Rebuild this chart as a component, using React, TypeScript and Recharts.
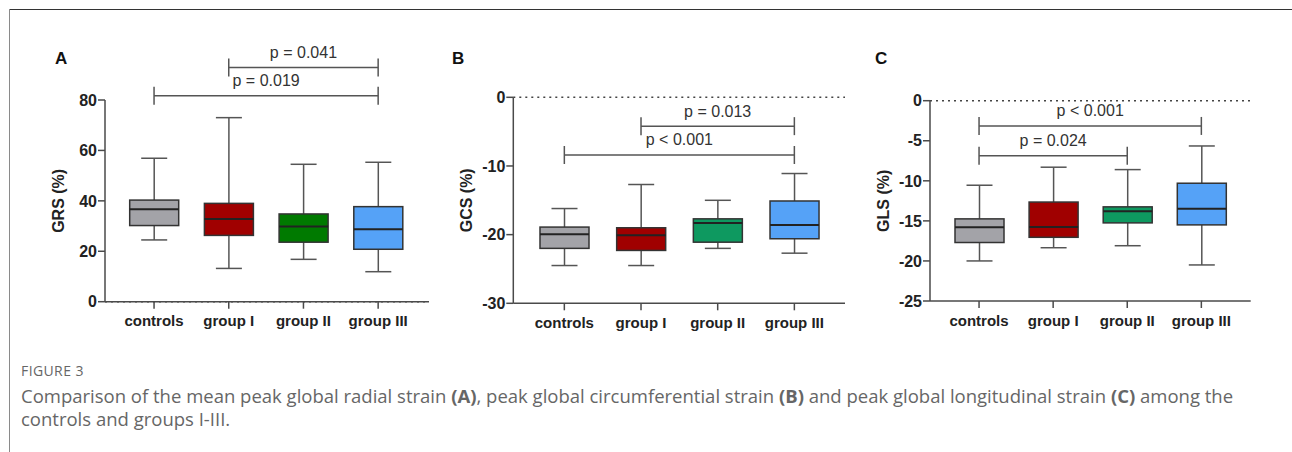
import React from 'react';
import { ComposedChart, Bar, XAxis, YAxis, ReferenceLine } from 'recharts';

// ---------- data ----------
const categories = ['controls', 'group I', 'group II', 'group III'];

// Panel A: GRS (%)
const grsMin = [24.5, 13.2, 16.8, 11.9];
const grsQ1 = [30.2, 26.3, 23.6, 20.8];
const grsMedian = [36.7, 32.8, 29.8, 28.7];
const grsQ3 = [40.3, 39.0, 34.8, 37.7];
const grsMax = [56.9, 73.0, 54.5, 55.3];
const grsTicks = [0, 20, 40, 60, 80];
const grsBracketLabels = ['p = 0.041', 'p = 0.019'];
const grsBracketFrom = ['group I', 'controls'];
const grsBracketTo = ['group III', 'group III'];
const grsBracketY = [92.9, 81.7];

// Panel B: GCS (%)
const gcsMin = [-24.5, -24.5, -22.0, -22.7];
const gcsQ1 = [-22.0, -22.3, -21.1, -20.6];
const gcsMedian = [-19.95, -20.1, -18.3, -18.6];
const gcsQ3 = [-18.9, -19.0, -17.7, -15.1];
const gcsMax = [-16.2, -12.7, -15.0, -11.1];
const gcsTicks = [0, -10, -20, -30];
const gcsBracketLabels = ['p = 0.013', 'p < 0.001'];
const gcsBracketFrom = ['group I', 'controls'];
const gcsBracketTo = ['group III', 'group III'];
const gcsBracketY = [-4.2, -8.4];

// Panel C: GLS (%)
const glsMin = [-20.0, -18.35, -18.1, -20.5];
const glsQ1 = [-17.7, -17.05, -15.25, -15.5];
const glsMedian = [-15.8, -15.75, -13.8, -13.5];
const glsQ3 = [-14.75, -12.65, -13.25, -10.3];
const glsMax = [-10.55, -8.3, -8.6, -5.65];
const glsTicks = [0, -5, -10, -15, -20, -25];
const glsBracketLabels = ['p < 0.001', 'p = 0.024'];
const glsBracketFrom = ['controls', 'controls'];
const glsBracketTo = ['group III', 'group II'];
const glsBracketY = [-3.15, -6.86];

// ---------- styles ----------
const FONT = '"Liberation Sans", Arial, Helvetica, sans-serif';
const AXIS = '#4a4a4a';
const colorsA = ['#a3a3a8', '#a00000', '#007a00', '#55a2f7'];
const colorsBC = ['#a3a3a8', '#a00000', '#0e9960', '#55a2f7'];

const buildRows = (mins: number[], q1s: number[], meds: number[], q3s: number[], maxs: number[]) =>
  categories.map((name, i) => ({
    name,
    idx: i,
    range: [mins[i], maxs[i]],
    min: mins[i],
    q1: q1s[i],
    median: meds[i],
    q3: q3s[i],
    max: maxs[i],
  }));

const makeBoxShape = (colors: string[]) => (props: any) => {
  const { x, y, width, height, payload } = props;
  if (!payload) return <g />;
  const top = Math.min(y, y + height);
  const h = Math.abs(height);
  const { min, max, q1, median, q3, idx } = payload;
  const pix = (v: number) => top + (h * (max - v)) / (max - min);
  const cx = x + width / 2;
  const cap = 13;
  return (
    <g>
      <line x1={cx} x2={cx} y1={pix(max)} y2={pix(q3)} stroke="#555" strokeWidth={1.5} />
      <line x1={cx} x2={cx} y1={pix(q1)} y2={pix(min)} stroke="#555" strokeWidth={1.5} />
      <line x1={cx - cap} x2={cx + cap} y1={pix(max)} y2={pix(max)} stroke="#555" strokeWidth={1.5} />
      <line x1={cx - cap} x2={cx + cap} y1={pix(min)} y2={pix(min)} stroke="#555" strokeWidth={1.5} />
      <rect
        x={x}
        y={pix(q3)}
        width={width}
        height={pix(q1) - pix(q3)}
        fill={colors[idx]}
        stroke="#333"
        strokeWidth={1.5}
      />
      <line x1={x} x2={x + width} y1={pix(median)} y2={pix(median)} stroke="#222" strokeWidth={2} />
    </g>
  );
};

const bracketShape = (props: any) => {
  const { x1, y1, x2, y2 } = props;
  return (
    <g>
      <line x1={x1} y1={y1} x2={x2} y2={y2} stroke="#555" strokeWidth={1.5} />
      <line x1={x1} x2={x1} y1={y1 - 9} y2={y1 + 9} stroke="#555" strokeWidth={1.5} />
      <line x1={x2} x2={x2} y1={y2 - 9} y2={y2 + 9} stroke="#555" strokeWidth={1.5} />
    </g>
  );
};

type PanelProps = {
  rows: any[];
  colors: string[];
  domain: [number, number];
  ticks: number[];
  yLabel: string;
  width: number;
  height: number;
  margin: { top: number; right: number; bottom: number; left: number };
  padding: { left: number; right: number };
  bracketLabels: string[];
  bracketFrom: string[];
  bracketTo: string[];
  bracketY: number[];
};

const Y_AXIS_W = 50;
const X_AXIS_H = 30;

function Panel(p: PanelProps) {
  const boxShape = makeBoxShape(p.colors);
  return (
    <ComposedChart width={p.width} height={p.height} data={p.rows} margin={p.margin}>
      <XAxis
        dataKey="name"
        type="category"
        interval={0}
        height={X_AXIS_H}
        padding={p.padding}
        stroke={AXIS}
        strokeWidth={1.5}
        tickSize={7}
        tickMargin={7}
        tickLine={{ stroke: AXIS, strokeWidth: 1.5 }}
        tick={{ fontSize: 15, fontWeight: 700, fill: '#222', fontFamily: FONT }}
      />
      <YAxis
        type="number"
        domain={p.domain}
        ticks={p.ticks}
        interval={0}
        width={Y_AXIS_W}
        stroke={AXIS}
        strokeWidth={1.5}
        tickSize={7}
        tickMargin={1}
        tickLine={{ stroke: AXIS, strokeWidth: 1.5 }}
        tick={{ fontSize: 16, fontWeight: 700, fill: '#222', fontFamily: FONT }}
        label={{
          content: (lp: any) => {
            const vb = lp.viewBox || {};
            const lx = vb.x + vb.width - 41;
            const ly = vb.y + vb.height / 2;
            return (
              <text
                x={lx}
                y={ly}
                transform={`rotate(-90 ${lx} ${ly})`}
                textAnchor="middle"
                fontSize={16}
                fontWeight={700}
                fill="#222"
                fontFamily={FONT}
              >
                {p.yLabel}
              </text>
            );
          },
        }}
      />
      <ReferenceLine y={0} stroke="#444" strokeWidth={1.5} strokeDasharray="2 4" ifOverflow="visible" />
      <Bar dataKey="range" barSize={49} shape={boxShape} isAnimationActive={false} />
      {p.bracketLabels.map((lab, i) => (
        <ReferenceLine
          key={lab + i}
          segment={[
            { x: p.bracketFrom[i], y: p.bracketY[i] },
            { x: p.bracketTo[i], y: p.bracketY[i] },
          ]}
          ifOverflow="visible"
          shape={bracketShape}
          label={{
            value: lab,
            position: 'top',
            offset: 9.5,
            fontSize: 16,
            fill: '#333',
            fontFamily: FONT,
          }}
        />
      ))}
    </ComposedChart>
  );
}

const grsRows = buildRows(grsMin, grsQ1, grsMedian, grsQ3, grsMax);
const gcsRows = buildRows(gcsMin, gcsQ1, gcsMedian, gcsQ3, gcsMax);
const glsRows = buildRows(glsMin, glsQ1, glsMedian, glsQ3, glsMax);

const letterStyle: React.CSSProperties = {
  position: 'absolute',
  top: 48.5,
  fontFamily: FONT,
  fontWeight: 700,
  fontSize: 17,
  lineHeight: '20px',
  color: '#111',
};

export default function App() {
  return (
    <div
      style={{
        position: 'absolute',
        left: 0,
        top: 0,
        width: 1292,
        height: 452,
        background: '#fff',
        overflow: 'hidden',
      }}
    >
      <div style={{ position: 'absolute', left: 9, top: 8.5, width: 1283, height: 1.5, background: '#333' }} />
      <div style={{ position: 'absolute', left: 9, top: 9, width: 1, height: 443, background: '#8a8a8a' }} />

      <div style={{ position: 'absolute', left: 0, top: 0 }}>
        <Panel
          rows={grsRows}
          colors={colorsA}
          domain={[0, 80]}
          ticks={grsTicks}
          yLabel="GRS (%)"
          width={440}
          height={340}
          margin={{ top: 100, right: 11, bottom: 340 - 301.7 - X_AXIS_H, left: 105 - Y_AXIS_W }}
          padding={{ left: 11.7, right: 13.5 }}
          bracketLabels={grsBracketLabels}
          bracketFrom={grsBracketFrom}
          bracketTo={grsBracketTo}
          bracketY={grsBracketY}
        />
      </div>
      <div style={{ position: 'absolute', left: 440, top: 0 }}>
        <Panel
          rows={gcsRows}
          colors={colorsBC}
          domain={[-30, 0]}
          ticks={gcsTicks}
          yLabel="GCS (%)"
          width={420}
          height={340}
          margin={{ top: 97.3, right: 15, bottom: 340 - 303.3 - X_AXIS_H, left: 73.3 - Y_AXIS_W }}
          padding={{ left: 12.7, right: 12.3 }}
          bracketLabels={gcsBracketLabels}
          bracketFrom={gcsBracketFrom}
          bracketTo={gcsBracketTo}
          bracketY={gcsBracketY}
        />
      </div>
      <div style={{ position: 'absolute', left: 860, top: 0 }}>
        <Panel
          rows={glsRows}
          colors={colorsBC}
          domain={[-25, 0]}
          ticks={glsTicks}
          yLabel="GLS (%)"
          width={432}
          height={340}
          margin={{ top: 100.7, right: 41.3, bottom: 340 - 301 - X_AXIS_H, left: 70 - Y_AXIS_W }}
          padding={{ left: 12, right: 12.3 }}
          bracketLabels={glsBracketLabels}
          bracketFrom={glsBracketFrom}
          bracketTo={glsBracketTo}
          bracketY={glsBracketY}
        />
      </div>

      <div style={{ ...letterStyle, left: 55 }}>A</div>
      <div style={{ ...letterStyle, left: 452 }}>B</div>
      <div style={{ ...letterStyle, left: 875 }}>C</div>

      <div
        style={{
          position: 'absolute',
          left: 21,
          top: 363,
          fontFamily: '"Open Sans", "Noto Sans", sans-serif',
          fontSize: 14,
          lineHeight: '16px',
          color: '#666',
          letterSpacing: 0.4,
        }}
      >
        FIGURE 3
      </div>
      <div
        style={{
          position: 'absolute',
          left: 21,
          top: 384,
          width: 1265,
          whiteSpace: 'nowrap',
          fontFamily: '"Open Sans", "Noto Sans", sans-serif',
          fontSize: 18.5,
          lineHeight: '23px',
          color: '#666',
        }}
      >
        Comparison of the mean peak global radial strain <b>(A)</b>, peak global circumferential strain{' '}
        <b>(B)</b> and peak global longitudinal strain <b>(C)</b> among the
        <br />
        controls and groups I-III.
      </div>
    </div>
  );
}
